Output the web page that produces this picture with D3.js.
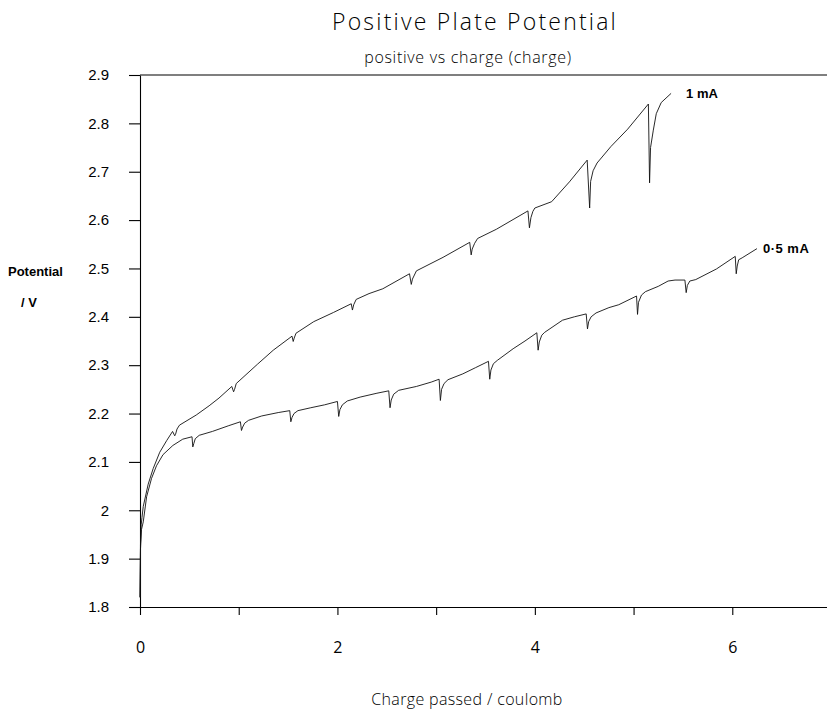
<!DOCTYPE html>
<html>
<head>
<meta charset="utf-8">
<script src="https://cdn.jsdelivr.net/npm/d3@7/dist/d3.min.js"></script>
<style>
  body { margin: 0; background: #fff; }
  svg text { font-family: "Liberation Sans", Arial, sans-serif; fill: #000; }
  .thin { font-family: "Open Sans", "DejaVu Sans", sans-serif !important; font-weight: 300; }
  .axis path, .axis line { stroke: #000; stroke-width: 1.1; }
</style>
</head>
<body>
<div id="chart"></div>
<script>
// 1 mA run: charge passed (C) and positive plate potential (V)
const chargeOneMA = [0, 0.005, 0.012, 0.02, 0.033, 0.083, 0.133, 0.2, 0.27, 0.33, 0.352, 0.36, 0.375, 0.4, 0.57, 0.7, 0.8,
  0.93, 0.948, 0.958, 0.975, 1.19, 1.35, 1.54, 1.552, 1.562, 1.58, 1.76, 1.96, 2.14, 2.152, 2.165, 2.19, 2.32, 2.46,
  2.73, 2.748, 2.76, 2.8, 3.07, 3.34, 3.355, 3.365, 3.39, 3.42, 3.61, 3.93, 3.945, 3.96, 3.98, 4.0, 4.17, 4.35,
  4.53, 4.555, 4.565, 4.59, 4.63, 4.77, 4.94, 5.15, 5.162, 5.172, 5.2, 5.23, 5.28, 5.38];
const potentialOneMA = [1.82, 1.93, 1.97, 1.985, 2.008, 2.054, 2.086, 2.12, 2.144, 2.163, 2.154, 2.157, 2.168, 2.176, 2.197, 2.216, 2.232,
  2.256, 2.245, 2.25, 2.262, 2.302, 2.331, 2.36, 2.349, 2.356, 2.366, 2.39, 2.409, 2.427, 2.414, 2.425, 2.436, 2.448, 2.458,
  2.489, 2.467, 2.478, 2.495, 2.523, 2.554, 2.528, 2.54, 2.552, 2.562, 2.581, 2.619, 2.584, 2.605, 2.618, 2.625, 2.638, 2.679,
  2.724, 2.625, 2.68, 2.702, 2.718, 2.752, 2.788, 2.84, 2.677, 2.75, 2.786, 2.82, 2.843, 2.862];

// 0.5 mA run
const chargeHalfMA = [0, 0.005, 0.015, 0.033, 0.067, 0.117, 0.167, 0.233, 0.333, 0.433, 0.527, 0.535, 0.545, 0.56, 0.6, 0.733, 0.9,
  1.017, 1.028, 1.04, 1.06, 1.1, 1.233, 1.4, 1.517, 1.528, 1.54, 1.56, 1.6, 1.73, 1.87,
  2.0, 2.013, 2.025, 2.05, 2.1, 2.23, 2.4, 2.52, 2.533, 2.545, 2.57, 2.62, 2.8, 2.95,
  3.03, 3.043, 3.055, 3.08, 3.12, 3.27, 3.4, 3.53, 3.543, 3.555, 3.58, 3.62, 3.78, 3.9,
  4.02, 4.033, 4.045, 4.07, 4.1, 4.28, 4.4, 4.52, 4.533, 4.545, 4.57, 4.62, 4.75, 4.85,
  5.03, 5.04, 5.05, 5.08, 5.12, 5.25, 5.35, 5.42, 5.52, 5.533, 5.545, 5.57, 5.63, 5.84,
  6.03, 6.04, 6.05, 6.065, 6.1, 6.25];
const potentialHalfMA = [1.82, 1.92, 1.96, 1.976, 2.028, 2.066, 2.092, 2.115, 2.134, 2.147, 2.152, 2.131, 2.138, 2.148, 2.155, 2.163, 2.175,
  2.183, 2.165, 2.172, 2.18, 2.186, 2.195, 2.202, 2.206, 2.183, 2.192, 2.2, 2.206, 2.212, 2.218,
  2.225, 2.194, 2.208, 2.218, 2.226, 2.234, 2.242, 2.247, 2.212, 2.228, 2.24, 2.248, 2.256, 2.265,
  2.271, 2.227, 2.25, 2.262, 2.27, 2.282, 2.295, 2.308, 2.271, 2.29, 2.303, 2.31, 2.334, 2.35,
  2.367, 2.331, 2.348, 2.362, 2.368, 2.393, 2.4, 2.406, 2.375, 2.39, 2.4, 2.408, 2.419, 2.425,
  2.443, 2.405, 2.43, 2.445, 2.452, 2.463, 2.474, 2.476, 2.476, 2.45, 2.465, 2.474, 2.477, 2.499,
  2.525, 2.489, 2.505, 2.518, 2.522, 2.541];

const yTicks = [1.8, 1.9, 2, 2.1, 2.2, 2.3, 2.4, 2.5, 2.6, 2.7, 2.8, 2.9];
const yTickLabels = ["1.8", "1.9", "2", "2.1", "2.2", "2.3", "2.4", "2.5", "2.6", "2.7", "2.8", "2.9"];
const xTicks = [0, 1, 2, 3, 4, 5, 6, 7];
const xTickLabels = ["0", "", "2", "", "4", "", "6", ""];

const margin = { top: 75, left: 140 };
const width = 691;
const height = 532;

const svg = d3.select("#chart")
  .append("svg")
  .attr("width", 827)
  .attr("height", 714);

const g = svg.append("g")
  .attr("transform", `translate(${margin.left},${margin.top})`);

const x = d3.scaleLinear().domain([0, 7]).range([0, width]);
const y = d3.scaleLinear().domain([1.8, 2.9]).range([height, 0]);

// Y axis
g.append("g")
  .attr("class", "axis")
  .call(d3.axisLeft(y).tickValues(yTicks).tickSize(11).tickSizeOuter(0).tickPadding(20)
    .tickFormat((d, i) => yTickLabels[i]))
  .selectAll("text")
  .style("font-size", "15px");

// X axis
g.append("g")
  .attr("class", "axis")
  .attr("transform", `translate(0,${height})`)
  .call(d3.axisBottom(x).tickValues(xTicks).tickSize(8).tickSizeOuter(0).tickPadding(27)
    .tickFormat((d, i) => xTickLabels[i]))
  .selectAll("text")
  .attr("class", "thin")
  .style("font-weight", 400)
  .style("font-size", "16px");

// top frame line
g.append("line")
  .attr("x1", 0).attr("x2", width)
  .attr("y1", y(2.9)).attr("y2", y(2.9))
  .attr("stroke", "#000").attr("stroke-width", 1.1);

const line = d3.line()
  .x(d => x(d[0]))
  .y(d => y(d[1]));

const seriesOne = chargeOneMA.map((c, i) => [c, potentialOneMA[i]]);
const seriesHalf = chargeHalfMA.map((c, i) => [c, potentialHalfMA[i]]);

[seriesOne, seriesHalf].forEach(s => {
  g.append("path")
    .datum(s)
    .attr("fill", "none")
    .attr("stroke", "#111")
    .attr("stroke-width", 0.9)
    .attr("stroke-linejoin", "round")
    .attr("d", line);
});

// curve labels, placed just past the end of each run
g.append("text")
  .attr("x", x(5.38) + 15).attr("y", y(2.862) + 4.5)
  .style("font-size", "13px").style("font-weight", "bold")
  .text("1 mA");
g.append("text")
  .attr("x", x(6.25) + 6).attr("y", y(2.541) + 4.5)
  .style("font-size", "13px").style("font-weight", "bold")
  .style("letter-spacing", "0.5px")
  .text("0·5 mA");

// titles
svg.append("text")
  .attr("class", "thin")
  .attr("x", 475).attr("y", 30)
  .attr("text-anchor", "middle")
  .style("font-size", "23px")
  .style("letter-spacing", "2.2px")
  .text("Positive Plate Potential");

svg.append("text")
  .attr("class", "thin")
  .attr("x", 468).attr("y", 63)
  .attr("text-anchor", "middle")
  .style("font-size", "16px")
  .style("letter-spacing", "0.7px")
  .text("positive vs charge (charge)");

svg.append("text")
  .attr("class", "thin")
  .attr("x", 467).attr("y", 705)
  .attr("text-anchor", "middle")
  .style("font-size", "16px")
  .style("letter-spacing", "0.35px")
  .text("Charge passed / coulomb");

svg.append("text")
  .attr("x", 8).attr("y", 276)
  .style("font-size", "13px").style("font-weight", "bold")
  .text("Potential");
svg.append("text")
  .attr("x", 21).attr("y", 307)
  .style("font-size", "13px").style("font-weight", "bold")
  .text("/ V");
</script>
</body>
</html>
